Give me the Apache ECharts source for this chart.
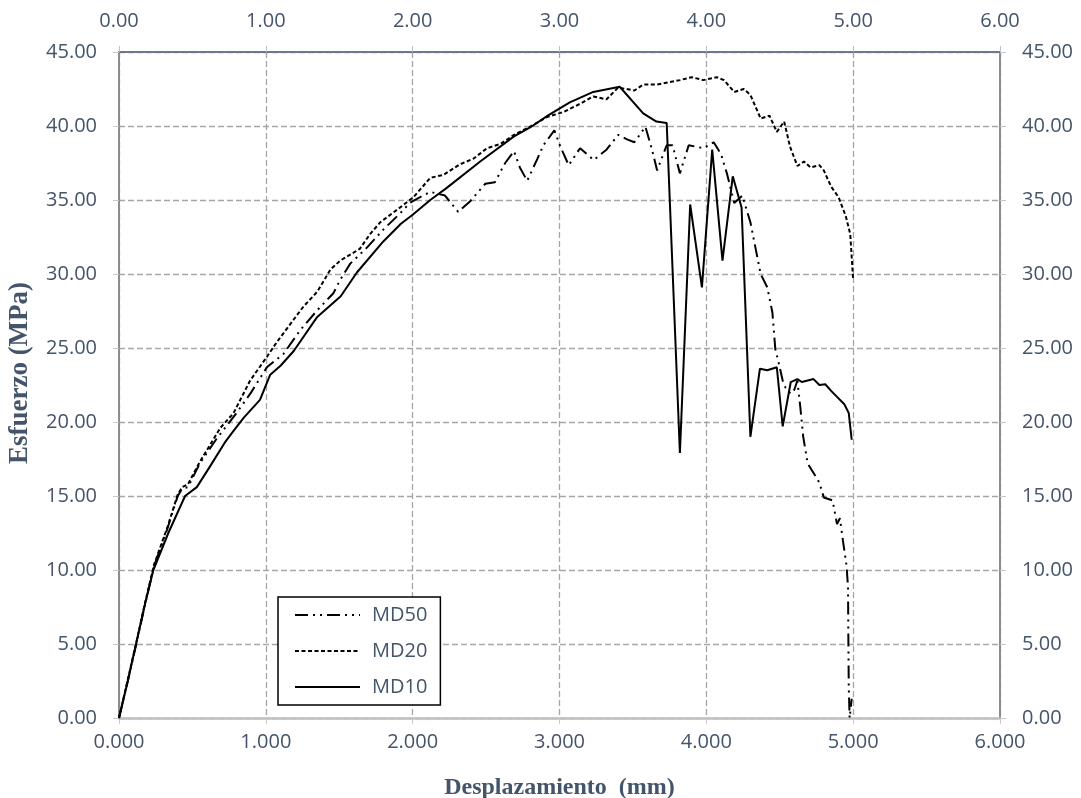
<!DOCTYPE html>
<html>
<head>
<meta charset="utf-8">
<title>Esfuerzo vs Desplazamiento</title>
<script src="https://cdn.jsdelivr.net/npm/echarts@6/dist/echarts.min.js"></script>
<style>
  html, body { margin: 0; padding: 0; background: #ffffff; }
  #chart { width: 1081px; height: 798px; }
</style>
</head>
<body>
<div id="chart"></div>
<script>
// Displacement (mm) vs stress (MPa) for each specimen
const seriesNames = ['MD50', 'MD20', 'MD10'];

const md50 = [
  [0, 0], [0.06, 2.5], [0.12, 5.1], [0.18, 7.8], [0.24, 10.3], [0.33, 12.8],
  [0.40, 15.0], [0.43, 15.5], [0.47, 15.6], [0.55, 17.2], [0.66, 18.8],
  [0.80, 20.6], [0.90, 22.0], [1.007, 23.7], [1.12, 24.6], [1.234, 26.2],
  [1.35, 27.55], [1.46, 28.7], [1.506, 29.6], [1.575, 30.7], [1.69, 31.8],
  [1.80, 33.0], [1.915, 34.1], [1.98, 34.8], [2.07, 35.3], [2.12, 35.55],
  [2.22, 35.3], [2.31, 34.2], [2.39, 34.9], [2.495, 36.1], [2.56, 36.2],
  [2.63, 37.5], [2.69, 38.3], [2.73, 37.2], [2.78, 36.3], [2.85, 37.8],
  [2.89, 38.7], [2.965, 39.7], [3.006, 38.6], [3.063, 37.35], [3.14, 38.5],
  [3.233, 37.7], [3.32, 38.4], [3.40, 39.4], [3.46, 39.1], [3.51, 38.9],
  [3.585, 39.95], [3.63, 38.4], [3.665, 37.0], [3.73, 38.7], [3.77, 38.7],
  [3.82, 36.8], [3.88, 38.7], [3.98, 38.5], [4.05, 38.9], [4.10, 38.1],
  [4.14, 36.8], [4.19, 34.8], [4.245, 35.3], [4.30, 33.5], [4.37, 30.0],
  [4.415, 29.1], [4.45, 27.4], [4.47, 24.9], [4.495, 23.9], [4.52, 22.8],
  [4.54, 22.3], [4.575, 21.9], [4.60, 22.2], [4.62, 22.8], [4.64, 21.0],
  [4.66, 19.0], [4.69, 17.2], [4.74, 16.4], [4.77, 15.9], [4.80, 14.9],
  [4.86, 14.7], [4.89, 13.1], [4.91, 13.5], [4.93, 12.0], [4.955, 10.3],
  [4.965, 8.8], [4.967, 5.7], [4.97, 2.1], [4.976, 0.0], [4.99, 1.3]
];

const md20 = [
  [0, 0], [0.06, 2.6], [0.12, 5.2], [0.18, 7.9], [0.24, 10.4], [0.33, 12.9],
  [0.40, 15.1], [0.43, 15.6], [0.47, 15.8], [0.55, 17.3], [0.69, 19.6],
  [0.78, 20.6], [0.893, 22.8], [1.007, 24.4], [1.075, 25.4], [1.256, 27.8],
  [1.35, 28.8], [1.44, 30.3], [1.506, 30.9], [1.64, 31.7], [1.71, 32.7],
  [1.78, 33.5], [1.915, 34.5], [2.006, 35.2], [2.12, 36.5], [2.21, 36.7],
  [2.32, 37.4], [2.415, 37.8], [2.506, 38.5], [2.60, 38.8], [2.69, 39.4],
  [2.80, 39.95], [2.915, 40.6], [3.03, 40.96], [3.14, 41.5], [3.23, 42.0],
  [3.32, 41.8], [3.40, 42.6], [3.51, 42.4], [3.57, 42.8], [3.665, 42.8],
  [3.82, 43.1], [3.90, 43.3], [3.98, 43.1], [4.07, 43.3], [4.12, 43.1],
  [4.19, 42.3], [4.255, 42.5], [4.30, 42.1], [4.37, 40.5], [4.43, 40.7],
  [4.48, 39.6], [4.53, 40.3], [4.57, 38.6], [4.62, 37.3], [4.665, 37.6],
  [4.71, 37.2], [4.77, 37.35], [4.80, 37.0], [4.85, 35.9], [4.90, 35.2],
  [4.95, 33.9], [4.98, 32.7], [5.0, 29.6]
];

const md10 = [
  [0, 0], [0.06, 2.5], [0.116, 5.0], [0.175, 7.6], [0.234, 10.0], [0.336, 12.5],
  [0.45, 15.0], [0.53, 15.6], [0.62, 17.0], [0.72, 18.6], [0.78, 19.4],
  [0.85, 20.3], [0.96, 21.5], [1.03, 23.2], [1.10, 23.8], [1.19, 24.8],
  [1.35, 27.1], [1.51, 28.5], [1.62, 30.1], [1.80, 32.2], [1.92, 33.4],
  [2.0, 34.0], [2.12, 35.0], [2.23, 35.8], [2.46, 37.6], [2.69, 39.3],
  [2.80, 39.9], [2.92, 40.7], [3.07, 41.6], [3.23, 42.3], [3.41, 42.65],
  [3.57, 40.85], [3.66, 40.3], [3.73, 40.2], [3.82, 17.9], [3.89, 34.7],
  [3.97, 29.1], [4.04, 38.4], [4.11, 30.9], [4.18, 36.6], [4.24, 34.5],
  [4.30, 19.0], [4.365, 23.6], [4.415, 23.5], [4.48, 23.7], [4.52, 19.7],
  [4.575, 22.7], [4.62, 22.9], [4.65, 22.7], [4.73, 22.9], [4.77, 22.5],
  [4.81, 22.55], [4.85, 22.1], [4.89, 21.7], [4.94, 21.2], [4.97, 20.6],
  [4.99, 18.8]
];

// Axis ranges and tick steps
const xRange = [0, 6];
const xStep = 1;
const yRange = [0, 45];
const yStep = 5;

const labelColor = '#44546a';
const labelFont = { color: labelColor, fontSize: 20, fontFamily: 'Open Sans' };
const gridDash = { color: '#a6a6a6', width: 1.3, type: [6, 3] };

const chart = echarts.init(document.getElementById('chart'), null, { renderer: 'canvas' });

chart.setOption({
  animation: false,
  backgroundColor: '#ffffff',
  grid: { left: 119, right: 81, top: 52, bottom: 80, containLabel: false, outerBoundsMode: 'none' },
  legend: {
    orient: 'vertical',
    left: 278,
    top: 597,
    data: seriesNames,
    itemWidth: 65,
    itemHeight: 14,
    itemGap: 16,
    padding: [8, 13, 8, 16],
    borderColor: '#000000',
    borderWidth: 1.5,
    backgroundColor: '#ffffff',
    itemStyle: { opacity: 0 },
    textStyle: { color: labelColor, fontSize: 20, fontFamily: 'Open Sans', padding: [0, 0, 0, 7] }
  },
  // vertical title of the stress axis
  graphic: [{
    type: 'text',
    x: 20,
    y: 373,
    rotation: Math.PI / 2,
    style: {
      text: 'Esfuerzo (MPa)',
      fill: labelColor,
      font: 'bold 27px "Liberation Serif"',
      align: 'center',
      verticalAlign: 'middle'
    }
  }],
  xAxis: [
    {
      type: 'value', position: 'bottom', min: xRange[0], max: xRange[1], interval: xStep,
      name: 'Desplazamiento  (mm)', nameLocation: 'middle', nameGap: 58,
      nameTextStyle: { color: labelColor, fontSize: 24, fontWeight: 'bold', fontFamily: 'Liberation Serif' },
      axisLine: { show: true, onZero: false, lineStyle: { color: '#bfbfbf', width: 2.5 } },
      axisTick: { show: true, length: 6, lineStyle: { color: '#c8c8c8', width: 1 } },
      axisLabel: { ...labelFont, margin: 14, formatter: v => v.toFixed(3) },
      splitLine: { show: true, lineStyle: gridDash }
    },
    {
      type: 'value', position: 'top', min: xRange[0], max: xRange[1], interval: xStep,
      axisLine: { show: true, onZero: false, lineStyle: { color: '#6d788a', width: 2 } },
      axisTick: { show: true, length: 6, lineStyle: { color: '#b8c4d4', width: 1 } },
      axisLabel: { ...labelFont, margin: 21, formatter: v => v.toFixed(2) },
      splitLine: { show: false }
    }
  ],
  yAxis: [
    {
      type: 'value', position: 'left', min: yRange[0], max: yRange[1], interval: yStep,
      axisLine: { show: true, onZero: false, lineStyle: { color: '#8c8c8c', width: 2 } },
      axisTick: { show: true, length: 6, lineStyle: { color: '#c8c8c8', width: 1 } },
      axisLabel: { ...labelFont, margin: 22, formatter: v => v.toFixed(2) },
      splitLine: { show: true, lineStyle: gridDash }
    },
    {
      type: 'value', position: 'right', min: yRange[0], max: yRange[1], interval: yStep,
      axisLine: { show: true, onZero: false, lineStyle: { color: '#8c8c8c', width: 2 } },
      axisTick: { show: true, length: 6, lineStyle: { color: '#c8c8c8', width: 1 } },
      axisLabel: { ...labelFont, margin: 22, formatter: v => v.toFixed(2) },
      splitLine: { show: false }
    }
  ],
  series: [
    {
      name: 'MD50', type: 'line', xAxisIndex: 0, yAxisIndex: 0, data: md50,
      showSymbol: false, symbol: 'none', z: 3,
      itemStyle: { color: '#000000' },
      lineStyle: { color: '#000000', width: 2, type: [13, 5, 2, 5, 2, 5] }
    },
    {
      name: 'MD20', type: 'line', xAxisIndex: 0, yAxisIndex: 0, data: md20,
      showSymbol: false, symbol: 'none', z: 3,
      itemStyle: { color: '#000000' },
      lineStyle: { color: '#000000', width: 2, type: [4, 2.5] }
    },
    {
      name: 'MD10', type: 'line', xAxisIndex: 0, yAxisIndex: 0, data: md10,
      showSymbol: false, symbol: 'none', z: 4,
      itemStyle: { color: '#000000' },
      lineStyle: { color: '#000000', width: 2, type: 'solid' }
    }
  ]
});
</script>
</body>
</html>
